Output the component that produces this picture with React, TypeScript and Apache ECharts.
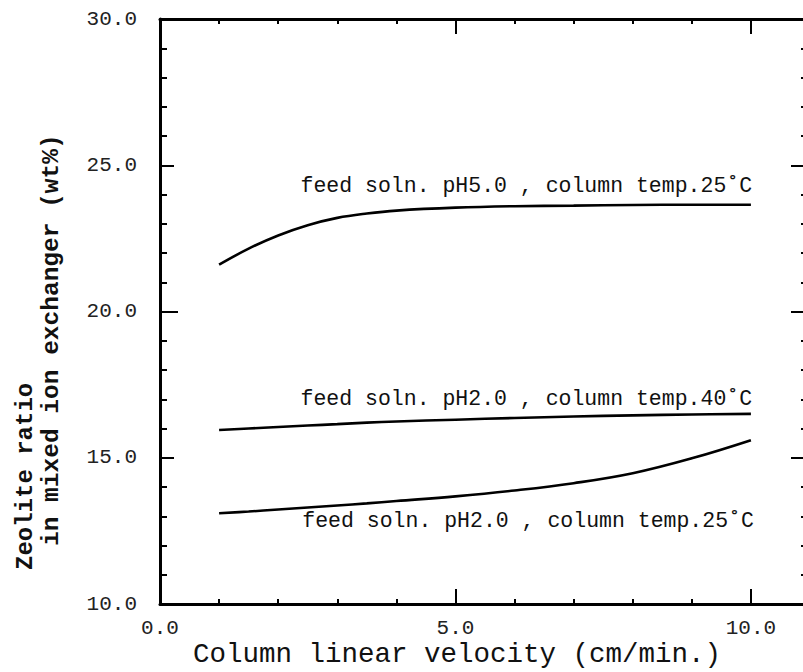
import React, { useEffect, useRef } from "react";
import * as echarts from "echarts";

// Column linear velocity (cm/min.)
const velocity = [1, 1.5, 2, 2.5, 3, 3.5, 4, 5, 6, 7, 8, 9, 10];
// Zeolite ratio (wt%) for each feed condition
const ph5Temp25 = [21.6, 22.15, 22.6, 22.95, 23.2, 23.35, 23.45, 23.55, 23.6, 23.62, 23.64, 23.65, 23.65];
const ph2Temp40 = [15.95, 16.0, 16.05, 16.1, 16.15, 16.2, 16.24, 16.3, 16.36, 16.41, 16.45, 16.48, 16.5];
const ph2Temp25 = [13.1, 13.16, 13.23, 13.3, 13.37, 13.44, 13.52, 13.68, 13.88, 14.13, 14.47, 14.98, 15.6];

const xLabels = [0, 5, 10];
const yLabels = [10, 15, 20, 25, 30];

const curveNames = [
  "feed soln. pH5.0 , column temp.25\u02DAC",
  "feed soln. pH2.0 , column temp.40\u02DAC",
  "feed soln. pH2.0 , column temp.25\u02DAC",
];
// right end of each curve caption, in data units
const captionAnchors: [number, number][] = [
  [10.02, 24.3],
  [10.02, 17.0],
  [10.05, 12.85],
];

const MONO = "'Liberation Mono', 'DejaVu Sans Mono', monospace";
const INK = "#000";

// an axis that only contributes tick marks of one length
function tickAxis(kind: "x" | "y", position: string, interval: number, length: number, withLine: boolean) {
  const range = kind === "x" ? { min: 0, max: 11 } : { min: 10, max: 30 };
  return {
    type: "value",
    ...range,
    interval,
    position,
    axisLine: { show: withLine, onZero: false, lineStyle: { color: INK, width: 3 } },
    axisTick: { show: true, inside: true, length, lineStyle: { color: INK, width: 2 } },
    splitLine: { show: false },
    axisLabel: { show: false },
  };
}

export default function App() {
  const ref = useRef<HTMLDivElement>(null);

  useEffect(() => {
    if (!ref.current) return;
    const chart = echarts.init(ref.current, undefined, { renderer: "svg" });

    const pairs = (ys: number[]) => velocity.map((v, i) => [v, ys[i]]);

    const lineSeries = (ys: number[], idx: number) => ({
      type: "line",
      data: pairs(ys),
      smooth: 0.4,
      showSymbol: false,
      symbol: "none",
      lineStyle: { color: INK, width: 2.6 },
      xAxisIndex: 0,
      yAxisIndex: 0,
      markPoint: {
        symbol: "circle",
        symbolSize: 0,
        silent: true,
        data: [
          {
            coord: captionAnchors[idx],
            label: {
              show: true,
              position: "inside",
              align: "right",
              verticalAlign: "middle",
              formatter: curveNames[idx],
              fontFamily: MONO,
              fontSize: 21.5,
              color: "#111",
            },
          },
        ],
      },
    });

    chart.setOption({
      animation: false,
      backgroundColor: "#fff",
      grid: { left: 160, top: 19, width: 650, height: 585, outerBoundsMode: "none", containLabel: false },
      xAxis: [
        {
          type: "value",
          min: 0,
          max: 11,
          interval: 5,
          position: "bottom",
          axisLine: { show: true, onZero: false, lineStyle: { color: INK, width: 3 } },
          axisTick: { show: true, inside: true, length: 15, lineStyle: { color: INK, width: 2 } },
          splitLine: { show: false },
          axisLabel: {
            margin: 14,
            fontFamily: MONO,
            fontSize: 21,
            color: "#222",
            formatter: (v: number) => (xLabels.includes(v) ? v.toFixed(1) : ""),
          },
          name: "Column linear velocity (cm/min.)",
          nameLocation: "middle",
          nameGap: 36,
          nameMoveOverlap: false,
          nameTextStyle: { fontFamily: MONO, fontSize: 27.5, color: "#111", padding: [0, 56, 0, 0] },
        },
        tickAxis("x", "bottom", 1, 5, false),
        tickAxis("x", "top", 5, 15, true),
        tickAxis("x", "top", 1, 5, false),
      ],
      yAxis: [
        {
          type: "value",
          min: 10,
          max: 30,
          interval: 5,
          position: "left",
          axisLine: { show: true, onZero: false, lineStyle: { color: INK, width: 3 } },
          axisTick: { show: true, inside: true, length: 14, lineStyle: { color: INK, width: 2 } },
          splitLine: { show: false },
          axisLabel: {
            margin: 23,
            padding: [8, 0, 0, 0],
            fontFamily: MONO,
            fontSize: 21,
            color: "#222",
            formatter: (v: number) => (yLabels.includes(v) ? v.toFixed(1) : ""),
          },
        },
        tickAxis("y", "left", 1, 7, false),
        tickAxis("y", "left", 10, 18, false),
        tickAxis("y", "right", 5, 19, true),
        tickAxis("y", "right", 1, 9, false),
      ],
      series: [
        lineSeries(ph5Temp25, 0),
        lineSeries(ph2Temp40, 1),
        lineSeries(ph2Temp25, 2),
      ],
      graphic: [
        {
          type: "text",
          x: 25,
          y: 570,
          rotation: Math.PI / 2,
          style: {
            text: "Zeolite ratio",
            fontFamily: MONO,
            fontSize: 24,
            fontWeight: "bold",
            fill: "#111",
            textAlign: "left",
            textVerticalAlign: "middle",
          },
        },
        {
          type: "text",
          x: 51,
          y: 546,
          rotation: Math.PI / 2,
          style: {
            text: "in mixed ion exchanger (wt%)",
            fontFamily: MONO,
            fontSize: 24.5,
            fontWeight: "bold",
            fill: "#111",
            textAlign: "left",
            textVerticalAlign: "middle",
          },
        },
      ],
    });

    return () => chart.dispose();
  }, []);

  return (
    <div
      ref={ref}
      style={{ position: "absolute", left: 0, top: 0, width: 803, height: 672, background: "#fff" }}
    />
  );
}
